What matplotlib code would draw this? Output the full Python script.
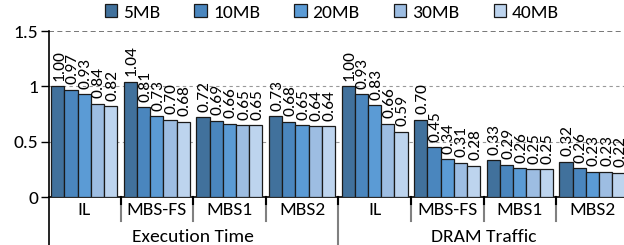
import matplotlib
matplotlib.use("Agg")
import matplotlib.pyplot as plt
import matplotlib.transforms as mtransforms
import numpy as np

plt.rcParams['font.family'] = ['Carlito', 'DejaVu Sans']

sizes = ["5MB", "10MB", "20MB", "30MB", "40MB"]
colors = ["#41719c", "#4a86be", "#5b9bd5", "#9dbde2", "#bdd4ee"]
schemes = ["IL", "MBS-FS", "MBS1", "MBS2", "IL", "MBS-FS", "MBS1", "MBS2"]
metrics = ["Execution Time", "DRAM Traffic"]

# rows: group, cols: size
exec_time = [
    [1.00, 0.97, 0.93, 0.84, 0.82],
    [1.04, 0.81, 0.73, 0.70, 0.68],
    [0.72, 0.69, 0.66, 0.65, 0.65],
    [0.73, 0.68, 0.65, 0.64, 0.64],
]
dram_traffic = [
    [1.00, 0.93, 0.83, 0.66, 0.59],
    [0.70, 0.45, 0.34, 0.31, 0.28],
    [0.33, 0.29, 0.26, 0.25, 0.25],
    [0.32, 0.26, 0.23, 0.23, 0.22],
]
values = np.array(exec_time + dram_traffic)  # shape (8 groups, 5 sizes)

fig = plt.figure(figsize=(6.24, 2.45), dpi=100)
ax = fig.add_axes([49 / 624, 48 / 245, 1 - 49 / 624, 166 / 245])

group_step = 5.5
centers = np.arange(len(schemes)) * group_step
for i, s in enumerate(sizes):
    xs = centers + (i - 2)
    ax.bar(xs, values[:, i], width=1.0, color=colors[i],
           edgecolor="#1a1a1a", linewidth=0.9, label=s, zorder=3)
    for x, v in zip(xs, values[:, i]):
        ax.annotate(f"{v:.2f}", (x, v), xytext=(1, 4), textcoords="offset points",
                    rotation=90, ha="center", va="bottom", fontsize=12.5, zorder=4)

ax.set_xlim(centers[0] - 2.67, centers[0] + (624 - 84.3) / 13.2)
ax.set_ylim(0, 1.5)
ax.set_yticks([0, 0.5, 1, 1.5])
ax.set_yticklabels(["0", "0.5", "1", "1.5"], fontsize=14)
ax.set_xticks([])
ax.tick_params(axis="y", length=6, width=1, pad=2)
for y in [0.5, 1.0]:
    ax.axhline(y, color="#999999", linestyle=(0, (3, 3)), linewidth=0.8, zorder=1)
ax.axhline(1.5, color="#606060", linestyle=(0, (3, 2)), linewidth=1.2, zorder=1)

ax.spines["top"].set_visible(False)
ax.spines["right"].set_visible(False)
ax.spines["left"].set_linewidth(1.2)
ax.spines["bottom"].set_linewidth(1.2)

# left spine extends down past the category labels
ax.plot([0, 0], [0, -0.3], transform=ax.transAxes, color="black",
        linewidth=1.2, clip_on=False)

trans = mtransforms.blended_transform_factory(ax.transData, ax.transAxes)
for g in range(len(schemes) - 1):
    xs = centers[g] + group_step / 2
    bottom = -0.3 if g == 3 else -0.145
    ax.plot([xs, xs], [0, bottom], transform=trans, color="#808080",
            linewidth=1.5, clip_on=False)
    ax.plot([xs, xs], [0, -0.04], transform=trans, color="black",
            linewidth=1.5, clip_on=False)

for g, name in enumerate(schemes):
    ax.text(centers[g], -0.08, name, transform=trans, ha="center",
            va="center", fontsize=14)
for m, name in enumerate(metrics):
    cx = centers[4 * m:4 * m + 4].mean()
    ax.text(cx, -0.24, name, transform=trans, ha="center", va="center",
            fontsize=14)

fig.legend(loc="upper center", bbox_to_anchor=(0.532, 1.03), ncol=5,
           frameon=False, fontsize=14, handlelength=0.65, handleheight=0.65,
           handletextpad=0.3, columnspacing=1.75, borderaxespad=0.2)

fig.savefig("out.png", dpi=100)
